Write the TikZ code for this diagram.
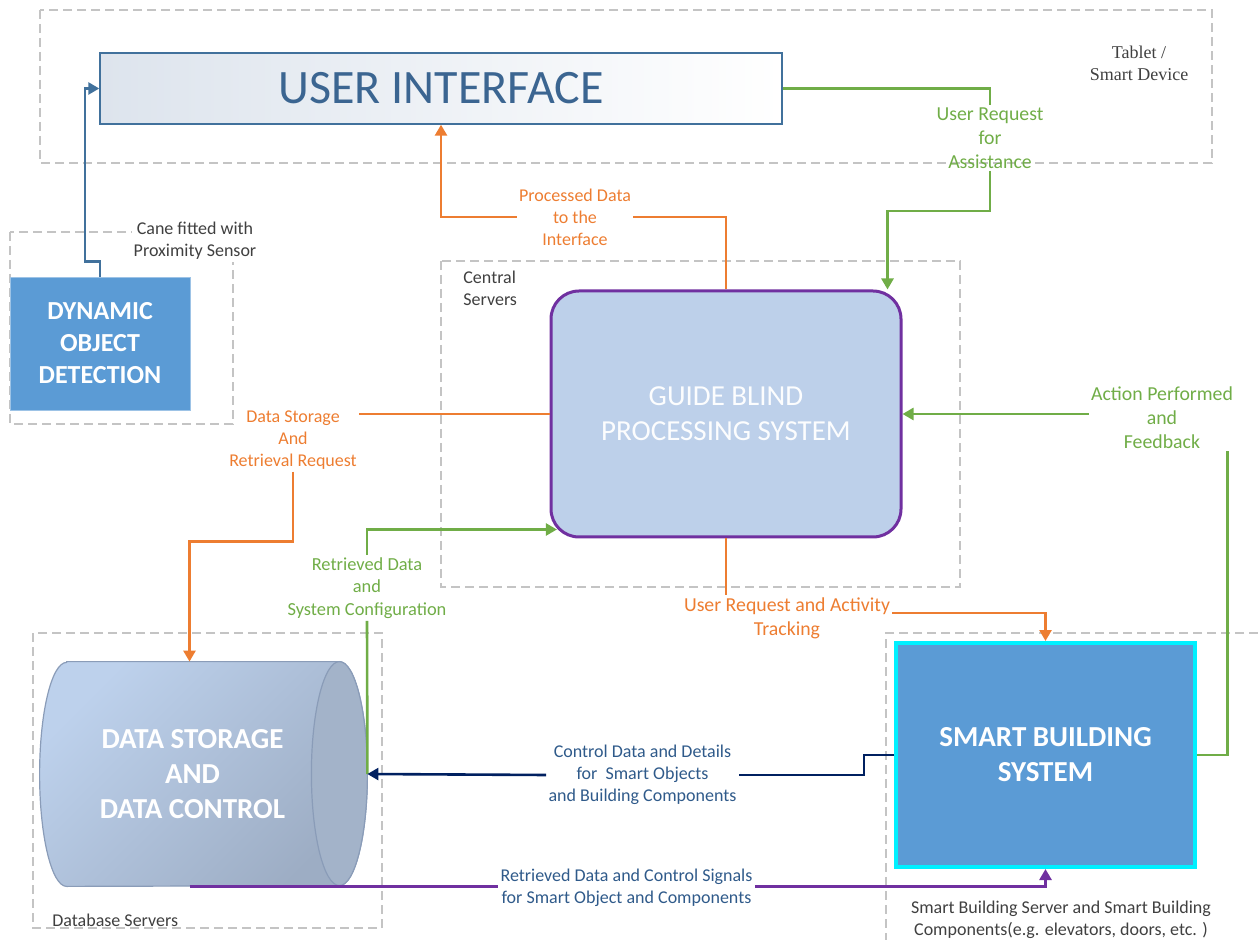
\documentclass[tikz,border=0pt]{standalone}
\usepackage{fontspec}
\setmainfont{Carlito}
\newfontfamily\timesfont{Liberation Serif}
\usetikzlibrary{positioning, calc, arrows.meta}

\definecolor{uiblue}{HTML}{41719C}
\definecolor{uitext}{HTML}{3B6591}
\definecolor{uileft}{HTML}{DDE4ED}
\definecolor{boxblue}{HTML}{5B9BD5}
\definecolor{sbsline}{HTML}{00F0FF}
\definecolor{gbpsfill}{HTML}{BDD0EA}
\definecolor{purp}{HTML}{7030A0}
\definecolor{orng}{HTML}{ED7D31}
\definecolor{grn}{HTML}{70AD47}
\definecolor{navy}{HTML}{002060}
\definecolor{lbltext}{HTML}{2F5A8A}
\definecolor{grptext}{HTML}{404040}
\definecolor{grpline}{HTML}{C4C4C4}
\definecolor{dbtop}{HTML}{BDD1EC}
\definecolor{dbbot}{HTML}{9DADC4}
\definecolor{dbend}{HTML}{A3B3C9}
\definecolor{dbline}{HTML}{8A9CB8}

\begin{document}
\begin{tikzpicture}[x=0.5pt, y=-0.5pt,
    grp/.style={draw=grpline, line width=0.7pt, dash pattern=on 4.5pt off 2.5pt},
    grplbl/.style={text=grptext, font=\fontsize{9}{11}\selectfont, align=center, inner sep=1pt},
    lbl/.style={font=\fontsize{9}{11}\selectfont, align=center, inner sep=1pt},
    biglbl/.style={lbl, font=\fontsize{9.9}{12}\selectfont},
    boxtitle/.style={text=white, font=\fontsize{14.5}{17.5}\selectfont\bfseries, align=center},
    conn/.style={line width=1.3pt},
    arr/.style={-{Triangle[length=5.5pt, width=6pt]}}
  ]
\useasboundingbox (0,0) rectangle (1258,940);

\draw[grp] (40,10) rectangle (1212,163);
\draw[grp] (10,232) rectangle (233,424);
\draw[grp] (441,261) rectangle (960,587);
\draw[grp] (33,633) rectangle (382,928);
\draw[grp] (1258,633) -- (886,633) -- (886,940);

\node[draw=uiblue, line width=0.7pt, left color=uileft, right color=white,
  minimum width=341pt, minimum height=35.5pt, text=uitext,
  font=\fontsize{24}{28}\selectfont] (ui) at (441,88.5) {USER INTERFACE};
\node[fill=boxblue, draw=boxblue!60!white, minimum width=90pt, minimum height=66.5pt,
  boxtitle, font=\fontsize{13}{16}\selectfont\bfseries] (dod) at (100,343.5) {DYNAMIC\\OBJECT\\DETECTION};
\node[fill=gbpsfill, draw=purp, line width=1.5pt, rounded corners=14pt,
  minimum width=175pt, minimum height=123pt, text=white!95!gbpsfill,
  font=\fontsize{14.5}{17.5}\selectfont, align=center] (gbps) at (726,414) {GUIDE BLIND\\PROCESSING SYSTEM};
\node[fill=boxblue, draw=sbsline, line width=2pt, minimum width=149.5pt, minimum height=112pt,
  boxtitle] (sbs) at (1045.5,755) {SMART BUILDING\\SYSTEM};

\node[minimum width=149.5pt, minimum height=112pt] (db) at (189.5,774) {};
\draw[dbline, line width=0.6pt, top color=dbtop, bottom color=dbbot, shading angle=45]
  ([xshift=13.5pt]db.north west) -- (db.north east)
  arc[start angle=90, end angle=-90, x radius=14pt, y radius=56pt]
  -- ([xshift=13.5pt]db.south west)
  arc[start angle=270, end angle=90, x radius=13.5pt, y radius=56pt] -- cycle;
\draw[dbline, line width=0.6pt, fill=dbend] (db.north east)
  arc[start angle=90, end angle=-90, x radius=14pt, y radius=56pt]
  arc[start angle=270, end angle=90, x radius=14pt, y radius=56pt] -- cycle;
\node[boxtitle] (dbtitle) at ([xshift=1.5pt]db.center) {DATA STORAGE\\AND\\DATA CONTROL};

\node[grplbl, font=\timesfont\fontsize{9}{11}\selectfont] (tabletlbl) at (1139,63) {Tablet /\\Smart Device};
\node[grplbl, fill=white] (canelbl) at (195,241) {Cane fitted with\\Proximity Sensor};
\node[grplbl, anchor=west, align=left] (centrallbl) at (461,288) {Central\\Servers};
\node[grplbl, anchor=west] (dblbl) at (50,920) {Database Servers};
\node[grplbl] (sblbl) at (1061,920) {Smart Building Server and Smart Building\\Components(e.g. elevators, doors, etc. )};

\node[lbl, text=orng] (lblproc) at (575,217) {Processed Data\\to the\\Interface};
\node[biglbl, text=grn] (lblreq) at (990,138) {User Request\\for\\Assistance};
\node[lbl, text=orng] (lbldsr) at (293,440) {Data Storage\\And\\Retrieval Request};
\node[lbl, font=\fontsize{9.2}{11.2}\selectfont, text=grn] (lblret) at (367,588) {Retrieved Data\\and\\System Configuration};
\node[biglbl, text=grn] (lblact) at (1162,418) {Action Performed\\and\\Feedback};
\node[biglbl, text=orng] (lbltrk) at (787,618) {User Request and Activity\\Tracking};
\node[lbl, text=lbltext] (lblctl) at (642.5,775) {Control Data and Details\\for\ \ Smart Objects\\and Building Components};
\node[lbl, text=lbltext] (lblsig) at (626.5,887.5) {Retrieved Data and Control Signals\\for Smart Object and Components};

\draw[conn, uiblue, arr] (dod.north) -- ++(0,-15) -- ++(-15,0) |- (ui.west);
\draw[conn, orng] (gbps.north) |- (lblproc.east);
\draw[conn, orng, arr] (lblproc.west) -| (ui.south);
\draw[conn, grn] (ui.east) -| (lblreq.north);
\draw[conn, grn, arr] (lblreq.south) -- ++(0,40) -| ([xshift=-7.5pt]gbps.north east);
\draw[conn, orng] (gbps.west) -- (gbps.west -| lbldsr.east);
\draw[conn, orng, arr] (lbldsr.south) -- ++(0,70) -| (db.north);
\draw[conn, grn, arr] (lblret.north) |- ([xshift=3.7pt, yshift=4.5pt]gbps.south west);
\draw[conn, grn] (lblret.south) -- ([xshift=14pt]db.east);
\draw[conn, grn, arr] (gbps.east -| lblact.west) -- (gbps.east);
\draw[conn, grn] ([xshift=-4pt]lblact.south east) |- (sbs.east);
\draw[conn, orng] (gbps.south) -- (gbps.south |- lbltrk.north);
\draw[conn, orng, arr] ([yshift=2.5pt]lbltrk.east) -| (sbs.north);
\draw[conn, navy] (sbs.west) -- ++(-30,0) |- (lblctl.east);
\draw[conn, navy, arr] (lblctl.west) -- ([xshift=14pt]db.east);
\draw[conn, purp] (db.south) -- (db.south -| lblsig.west);
\draw[conn, purp, arr] (lblsig.east |- db.south) -| (sbs.south);
\end{tikzpicture}
\end{document}
